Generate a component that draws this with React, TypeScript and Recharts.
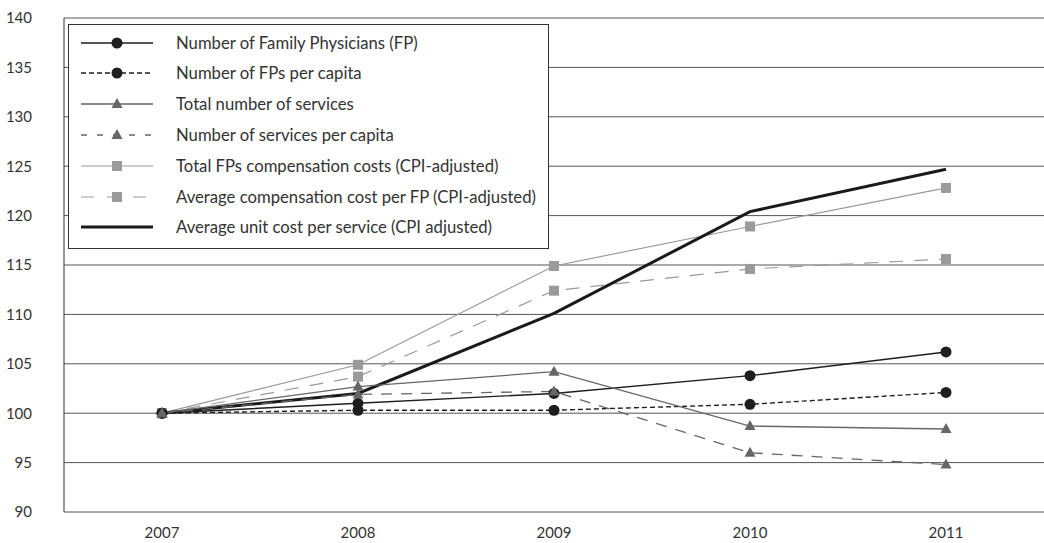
import React from 'react';
import { LineChart, Line, XAxis, YAxis, CartesianGrid } from 'recharts';

const years = [2007, 2008, 2009, 2010, 2011];
const fpCount = [100, 101.0, 102.0, 103.8, 106.2];
const fpPerCapita = [100, 100.3, 100.3, 100.9, 102.1];
const totalServices = [100, 102.7, 104.2, 98.7, 98.4];
const servicesPerCapita = [100, 101.9, 102.2, 96.0, 94.8];
const totalComp = [100, 104.9, 114.9, 118.9, 122.8];
const avgCompPerFp = [100, 103.7, 112.4, 114.6, 115.6];
const avgUnitCost = [100, 102.0, 110.1, 120.4, 124.7];

const yTicks = [90, 95, 100, 105, 110, 115, 120, 125, 130, 135, 140];
const boundaryTicks = [2007.5, 2008.5, 2009.5, 2010.5];

const data = years.map((year, i) => ({
  year,
  fpCount: fpCount[i],
  fpPerCapita: fpPerCapita[i],
  totalServices: totalServices[i],
  servicesPerCapita: servicesPerCapita[i],
  totalComp: totalComp[i],
  avgCompPerFp: avgCompPerFp[i],
  avgUnitCost: avgUnitCost[i],
}));

type Marker = 'circle' | 'triangle' | 'square' | 'none';

const series: { key: string; name: string; color: string; width: number; dash?: string; legendDash?: string; marker: Marker }[] = [
  { key: 'totalComp', name: 'Total FPs compensation costs (CPI-adjusted)', color: '#9a9a9a', width: 1.2, marker: 'square' },
  { key: 'avgCompPerFp', name: 'Average compensation cost per FP (CPI-adjusted)', color: '#9a9a9a', width: 1.2, dash: '14 11', legendDash: '13 13', marker: 'square' },
  { key: 'avgUnitCost', name: 'Average unit cost per service (CPI adjusted)', color: '#1a1a1a', width: 3, marker: 'none' },
  { key: 'fpCount', name: 'Number of Family Physicians (FP)', color: '#1e1e1e', width: 1.4, marker: 'circle' },
  { key: 'fpPerCapita', name: 'Number of FPs per capita', color: '#1e1e1e', width: 1.4, dash: '5 3', legendDash: '5 3', marker: 'circle' },
  { key: 'totalServices', name: 'Total number of services', color: '#666666', width: 1.3, marker: 'triangle' },
  { key: 'servicesPerCapita', name: 'Number of services per capita', color: '#666666', width: 1.3, dash: '11 9', legendDash: '6 10', marker: 'triangle' },
];

const legendOrder = ['fpCount', 'fpPerCapita', 'totalServices', 'servicesPerCapita', 'totalComp', 'avgCompPerFp', 'avgUnitCost'];

function MarkerShape({ type, cx, cy, color }: { type: Marker; cx: number; cy: number; color: string }) {
  if (type === 'circle') return <circle cx={cx} cy={cy} r={5.5} fill={color} stroke="none" />;
  if (type === 'triangle')
    return <polygon points={`${cx},${cy - 6} ${cx - 5.5},${cy + 4} ${cx + 5.5},${cy + 4}`} fill={color} stroke="none" />;
  if (type === 'square') return <rect x={cx - 5} y={cy - 5} width={10} height={10} fill={color} stroke="none" />;
  return null;
}

const makeDot = (type: Marker, color: string) => (props: any) => {
  const { cx, cy, index } = props;
  if (cx == null || cy == null) return <g key={`d-${index}`} />;
  return (
    <g key={`d-${index}`}>
      <MarkerShape type={type} cx={cx} cy={cy} color={color} />
    </g>
  );
};

const FONT = 'Lato, "Open Sans", sans-serif';

export default function App() {
  return (
    <div style={{ position: 'absolute', left: 0, top: 0, width: 1044, height: 543, fontFamily: FONT, background: '#fff' }}>
      <LineChart width={1044} height={543} data={data} margin={{ top: 18, right: 0, bottom: 0, left: 0 }}>
        <CartesianGrid vertical={false} stroke="#555" strokeWidth={1} />
        <YAxis
          domain={[90, 140]}
          ticks={yTicks}
          width={64}
          axisLine={{ stroke: '#333' }}
          tickLine={false}
          tickMargin={26}
          interval={0}
          tick={{ fill: '#333', fontSize: 15, fontFamily: FONT }}
        />
        <XAxis
          xAxisId="ticks"
          dataKey="year"
          type="number"
          domain={[2006.5, 2011.5]}
          ticks={boundaryTicks}
          interval={0}
          height={0}
          tick={false}
          tickSize={10}
          tickLine={{ stroke: '#333' }}
          axisLine={{ stroke: '#333' }}
        />
        <XAxis
          xAxisId="labels"
          dataKey="year"
          type="number"
          domain={[2006.5, 2011.5]}
          ticks={years}
          interval={0}
          height={31}
          axisLine={false}
          tickLine={false}
          tickSize={6}
          tickMargin={9}
          tick={{ fill: '#333', fontSize: 15, fontFamily: FONT }}
        />
        {series.map((s) => (
          <Line
            key={s.key}
            xAxisId="ticks"
            dataKey={s.key}
            name={s.name}
            stroke={s.color}
            strokeWidth={s.width}
            strokeDasharray={s.dash}
            dot={s.marker === 'none' ? false : makeDot(s.marker, s.color)}
            activeDot={false}
            isAnimationActive={false}
          />
        ))}
      </LineChart>
      <div
        style={{
          position: 'absolute',
          left: 68,
          top: 24,
          width: 481,
          height: 225,
          boxSizing: 'border-box',
          border: '1px solid #333',
          background: '#fff',
        }}
      >
        {legendOrder.map((k, i) => {
          const s = series.find((x) => x.key === k)!;
          return (
            <div key={k} style={{ position: 'absolute', left: 0, top: 17.5 + i * 30.8 - 12, height: 24, width: '100%' }}>
              <svg width={90} height={24} style={{ position: 'absolute', left: 11, top: 0 }}>
                <line x1={1} y1={12} x2={73} y2={12} stroke={s.color} strokeWidth={s.width} strokeDasharray={s.legendDash} />
                <MarkerShape type={s.marker} cx={37} cy={12} color={s.color} />
              </svg>
              <span
                style={{
                  position: 'absolute',
                  left: 107,
                  top: 1,
                  fontSize: 16.7,
                  lineHeight: '22px',
                  color: '#333',
                  whiteSpace: 'nowrap',
                  fontFamily: FONT,
                }}
              >
                {s.name}
              </span>
            </div>
          );
        })}
      </div>
    </div>
  );
}
